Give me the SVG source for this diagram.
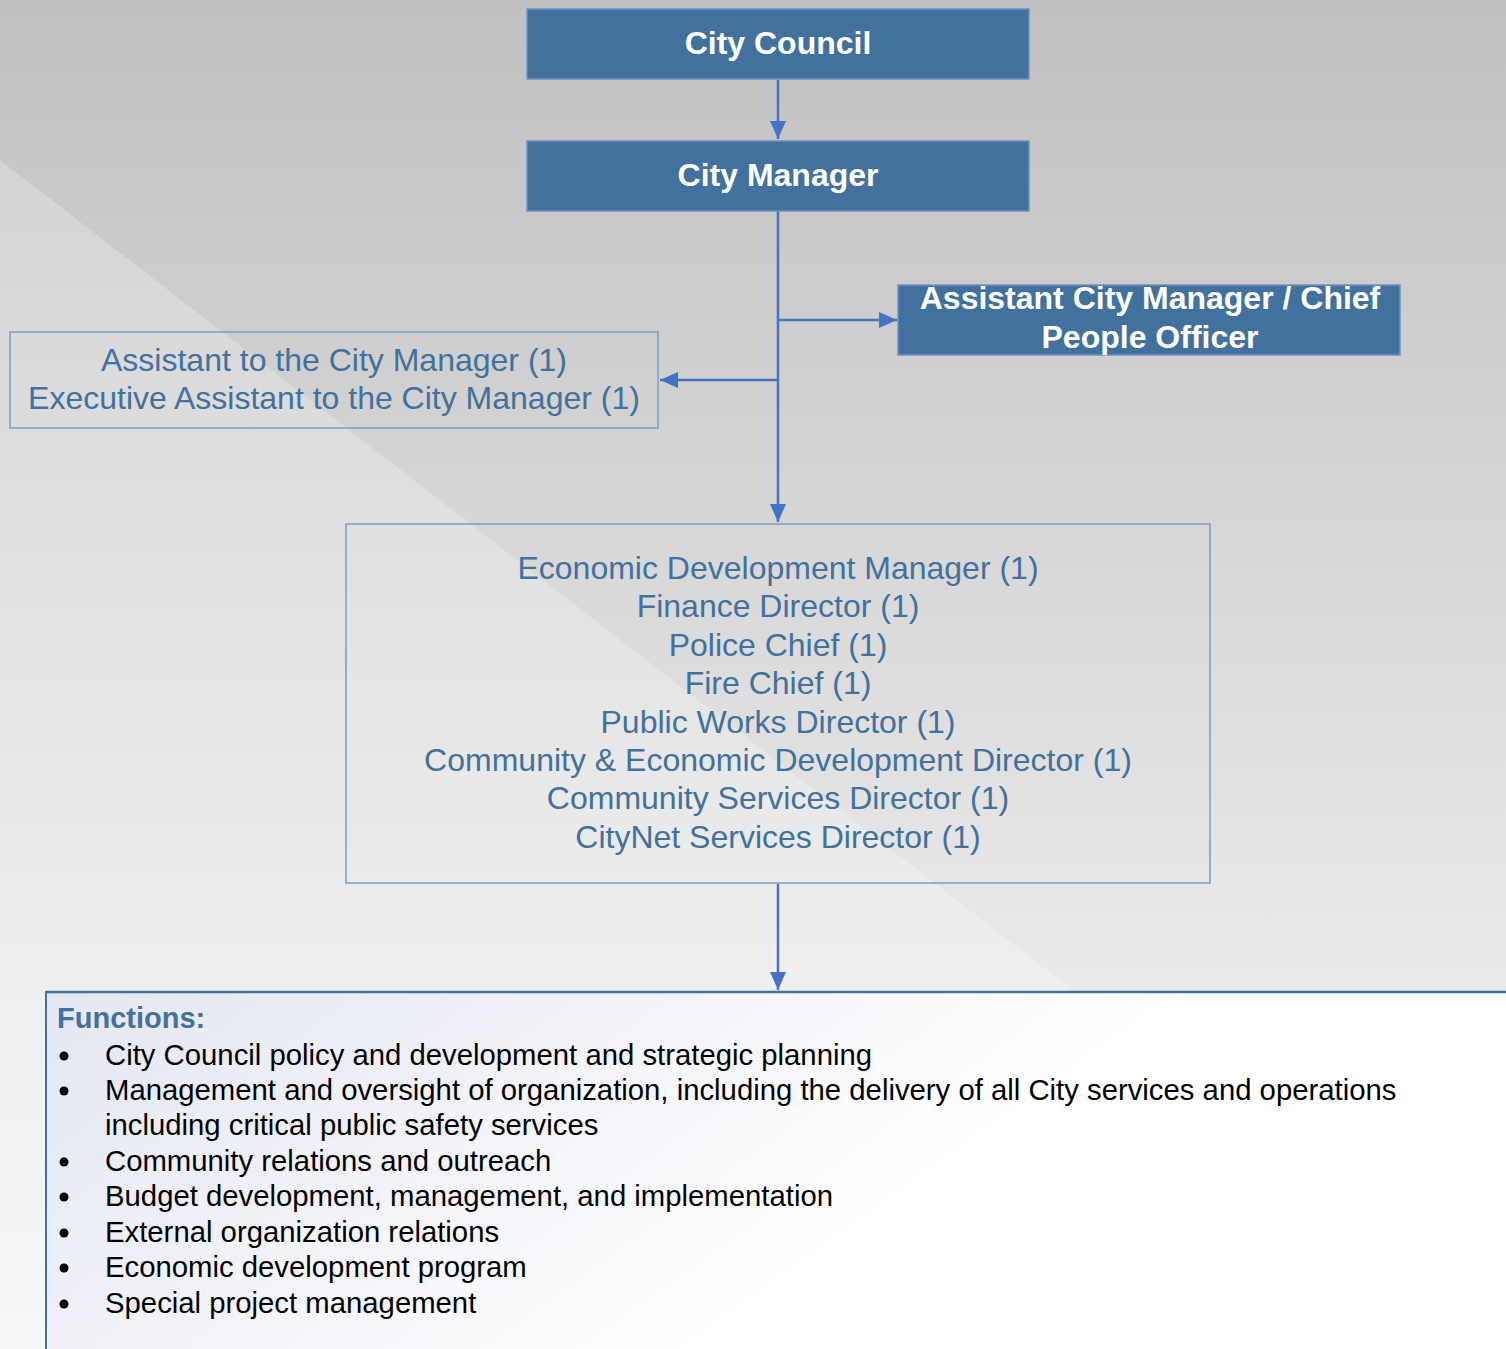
<svg xmlns="http://www.w3.org/2000/svg" width="1506" height="1349" viewBox="0 0 1506 1349">
  <defs>
    <linearGradient id="bgGrad" x1="0" y1="0" x2="0" y2="1">
      <stop offset="0" stop-color="#c0c0c0"/>
      <stop offset="0.73" stop-color="#eaeaea"/>
      <stop offset="1" stop-color="#f4f4f4"/>
    </linearGradient>
    <linearGradient id="panelGrad" x1="0" y1="0" x2="1" y2="0.35">
      <stop offset="0" stop-color="#e4e6f1"/>
      <stop offset="0.7" stop-color="#ffffff"/>
      <stop offset="1" stop-color="#ffffff"/>
    </linearGradient>
    <marker id="arrow" markerUnits="userSpaceOnUse" markerWidth="20" markerHeight="18" refX="18" refY="8" orient="auto">
      <path d="M0,0 L18,8 L0,16 Z" fill="#4472c4"/>
    </marker>
    <style>
      .solid { fill: #41719c; stroke: #6f93bd; stroke-width: 1.5; }
      .outline { fill: none; stroke: #7d9cc0; stroke-width: 1.5; }
      .title { font-family: "Liberation Sans", Arial, sans-serif; font-weight: bold; font-size: 32px; fill: #ffffff; text-anchor: middle; }
      .role { font-family: "Liberation Sans", Arial, sans-serif; font-size: 32px; fill: #41719c; text-anchor: middle; }
      .conn { fill: none; stroke: #4472c4; stroke-width: 2.5; }
      .head { font-family: "Liberation Sans", Arial, sans-serif; font-weight: bold; font-size: 29px; fill: #41719c; }
      .item { font-family: "Liberation Sans", Arial, sans-serif; font-size: 29.3px; fill: #000000; }
    </style>
  </defs>

  <!-- backdrop: vertical grey fade with a lighter diagonal wedge -->
  <rect x="0" y="0" width="1506" height="1349" fill="url(#bgGrad)"/>
  <polygon points="0,160 1537,1349 0,1349" fill="#ffffff" fill-opacity="0.24"/>

  <!-- connectors -->
  <g id="connectors">
    <line class="conn" x1="778" y1="80" x2="778" y2="139" marker-end="url(#arrow)"/>
    <line class="conn" x1="778" y1="211" x2="778" y2="522" marker-end="url(#arrow)"/>
    <line class="conn" x1="778" y1="320" x2="897" y2="320" marker-end="url(#arrow)"/>
    <line class="conn" x1="778" y1="380" x2="660" y2="380" marker-end="url(#arrow)"/>
    <line class="conn" x1="778" y1="884" x2="778" y2="990" marker-end="url(#arrow)"/>
  </g>

  <g id="city-council">
    <rect class="solid" x="527" y="9" width="502" height="70"/>
    <text class="title" x="778" y="54">City Council</text>
  </g>

  <g id="city-manager">
    <rect class="solid" x="527" y="141" width="502" height="70"/>
    <text class="title" x="778" y="186">City Manager</text>
  </g>

  <g id="assistant-city-manager">
    <rect class="solid" x="898" y="285" width="502" height="70"/>
    <text class="title" x="1150" y="309">Assistant City Manager / Chief</text>
    <text class="title" x="1150" y="348">People Officer</text>
  </g>

  <g id="assistants">
    <rect class="outline" x="10" y="332" width="648" height="96"/>
    <text class="role" x="334" y="371">Assistant to the City Manager (1)</text>
    <text class="role" x="334" y="409">Executive Assistant to the City Manager (1)</text>
  </g>

  <g id="directors">
    <rect class="outline" x="346" y="524" width="864" height="359"/>
    <text class="role" x="778" y="579">Economic Development Manager (1)</text>
    <text class="role" x="778" y="617">Finance Director (1)</text>
    <text class="role" x="778" y="656">Police Chief (1)</text>
    <text class="role" x="778" y="694">Fire Chief (1)</text>
    <text class="role" x="778" y="733">Public Works Director (1)</text>
    <text class="role" x="778" y="771">Community &amp; Economic Development Director (1)</text>
    <text class="role" x="778" y="809">Community Services Director (1)</text>
    <text class="role" x="778" y="848">CityNet Services Director (1)</text>
  </g>

  <g id="functions">
    <rect x="46" y="992" width="1470" height="370" fill="url(#panelGrad)"/>
    <line x1="46" y1="992" x2="1506" y2="992" stroke="#41719c" stroke-width="2.5"/>
    <line x1="46" y1="991" x2="46" y2="1349" stroke="#41719c" stroke-width="2"/>
    <text class="head" x="57" y="1028">Functions:</text>
    <g fill="#000000">
      <circle cx="64" cy="1056" r="4.5"/>
      <circle cx="64" cy="1091" r="4.5"/>
      <circle cx="64" cy="1162" r="4.5"/>
      <circle cx="64" cy="1197" r="4.5"/>
      <circle cx="64" cy="1233" r="4.5"/>
      <circle cx="64" cy="1268" r="4.5"/>
      <circle cx="64" cy="1304" r="4.5"/>
    </g>
    <text class="item" x="105" y="1065">City Council policy and development and strategic planning</text>
    <text class="item" x="105" y="1100">Management and oversight of organization, including the delivery of all City services and operations</text>
    <text class="item" x="105" y="1135">including critical public safety services</text>
    <text class="item" x="105" y="1171">Community relations and outreach</text>
    <text class="item" x="105" y="1206">Budget development, management, and implementation</text>
    <text class="item" x="105" y="1242">External organization relations</text>
    <text class="item" x="105" y="1277">Economic development program</text>
    <text class="item" x="105" y="1313">Special project management</text>
  </g>
</svg>
